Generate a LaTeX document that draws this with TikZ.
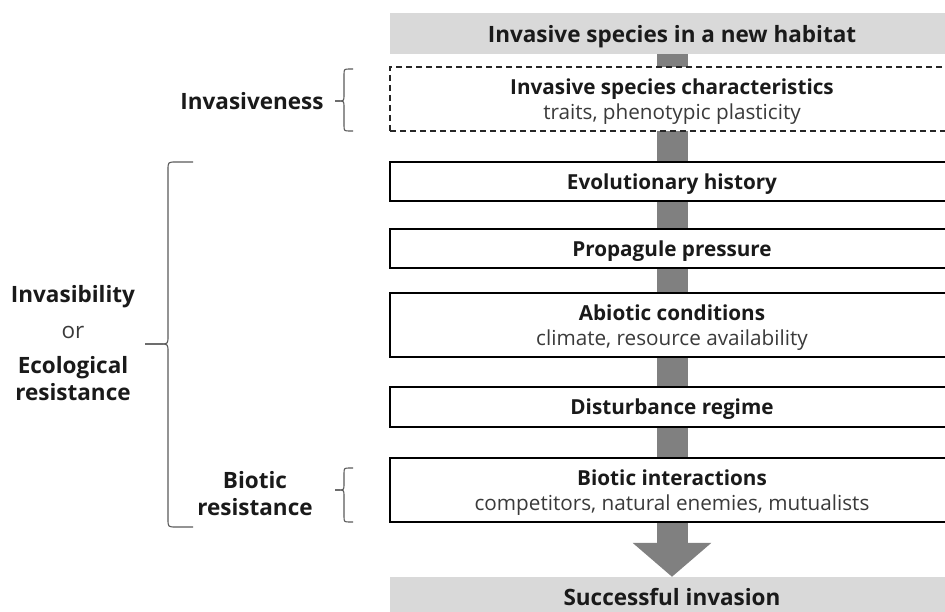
\documentclass[tikz,border=0pt]{standalone}
\usepackage{fontspec}
\setmainfont{Open Sans}
\usetikzlibrary{arrows.meta,backgrounds}
\definecolor{boxgray}{HTML}{D9D9D9}
\definecolor{arrowgray}{HTML}{808080}
\definecolor{txtdark}{HTML}{1A1A1A}
\definecolor{txtsub}{HTML}{3A3A3A}
\definecolor{bracegray}{HTML}{595959}
% #1 end x, #2 vertical x, #3 tip x, #4 top y, #5 tip y, #6 bottom y, #7 radius
\newcommand\drawbrace[7]{%
  \draw[bracestyle] (#1,#4) -- (#2+#7,#4) .. controls (#2,#4) .. (#2,#4+#7)
    -- (#2,#5-#7) .. controls (#2,#5) .. (#2-#7,#5) -- (#3,#5);
  \draw[bracestyle] (#1,#6) -- (#2+#7,#6) .. controls (#2,#6) .. (#2,#6-#7)
    -- (#2,#5+#7) .. controls (#2,#5) .. (#2-#7,#5) -- (#3,#5);
}
\begin{document}
\begin{tikzpicture}[x=1pt,y=-1pt,
  bracestyle/.style={draw=bracegray,line width=1.1pt},
  boxfont/.style={font=\fontsize{20.7}{25}\selectfont\bfseries,text=txtdark},
  bigfont/.style={font=\fontsize{22.5}{27}\selectfont\bfseries,text=txtdark},
  graybox/.style={bigfont,fill=boxgray,minimum width=564pt,inner sep=0pt,text depth=0pt},
  factorbox/.style={boxfont,draw=black,line width=1.3pt,fill=white,minimum width=564pt,inner sep=0pt,align=center,text depth=0pt},
  dashbox/.style={factorbox,draw=black!85,line width=1.4pt,dash pattern=on 6pt off 4pt},
  sidelabel/.style={bigfont,align=center,inner sep=0pt},
  flowarrow/.style={draw=arrowgray,line width=31pt,-{Triangle[width=77pt,length=34pt]}}
]
\useasboundingbox (0,0) rectangle (945,612);

\node[graybox,minimum height=41pt] (start) at (672,33.5) {Invasive species in a new habitat};
\node[dashbox,minimum height=64pt] (chars) at (672,99)
  {Invasive species characteristics\\{\mdseries\color{txtsub}traits, phenotypic plasticity}};
\node[factorbox,minimum height=39pt] (evo) at (672,181.5) {Evolutionary history};
\node[factorbox,minimum height=39pt] (prop) at (672,248.5) {Propagule pressure};
\node[factorbox,minimum height=64pt] (abio) at (672,325) {Abiotic conditions\\{\mdseries\color{txtsub}climate, resource availability}};
\node[factorbox,minimum height=40pt] (dist) at (672,407) {Disturbance regime};
\node[factorbox,minimum height=64pt] (biot) at (672,490) {Biotic interactions\\{\mdseries\color{txtsub}competitors, natural enemies, mutualists}};
\node[graybox,minimum height=40pt] (success) at (672,597) {Successful invasion};

\begin{pgfonlayer}{background}
  \draw[flowarrow] (start.south) -- (success.north);
\end{pgfonlayer}

\node[sidelabel] (invness) at (252,101) {Invasiveness};
\node[sidelabel] (invbil) at (73,297) {Invasibility};
\node[sidelabel,font=\fontsize{22.5}{27}\selectfont,text=txtsub] (orlab) at (73,332) {or};
\node[sidelabel] (ecores) at (73,379) {Ecological\\resistance};
\node[sidelabel] (biores) at (255,494) {Biotic\\resistance};

\drawbrace{353}{344}{335}{69}{101}{131}{6}
\drawbrace{193}{168}{145}{162}{344}{527}{8}
\drawbrace{353}{344}{335}{468}{490}{522}{6}
\end{tikzpicture}
\end{document}
